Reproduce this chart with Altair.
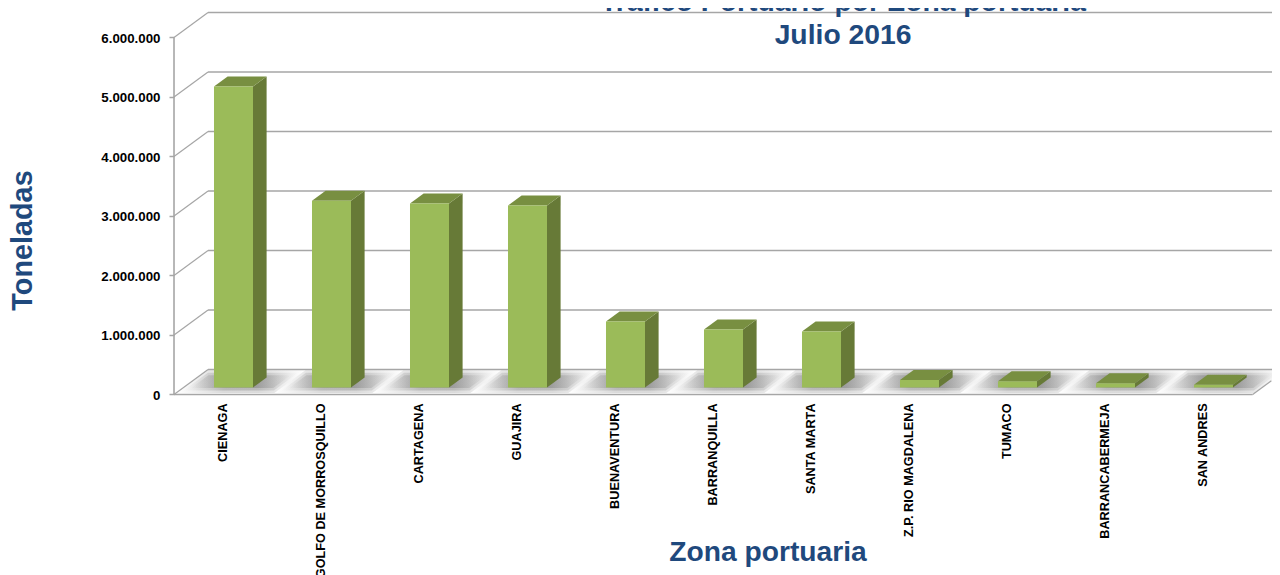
import altair as alt
import pandas as pd

categories = ["CIENAGA", "GOLFO DE MORROSQUILLO", "CARTAGENA", "GUAJIRA", "BUENAVENTURA",
              "BARRANQUILLA", "SANTA MARTA", "Z.P. RIO MAGDALENA", "TUMACO", "BARRANCABERMEJA", "SAN ANDRES"]
tonnes = [5060000, 3140000, 3090000, 3060000, 1110000, 975000, 940000, 125000, 105000, 70000, 45000]
ticks = [0, 1000000, 2000000, 3000000, 4000000, 5000000, 6000000]
title_lines = ["Tráfico Portuario por Zona portuaria", "Julio 2016"]

# 3D box model, in the units of the two scales
DX, DY = 0.347, 420000   # depth of the floor
HALF = 0.199             # half of a bar's width
D0, D1 = 0.28, 0.68      # depth of bar front / back
LAST = 10.4              # floor's right end
W, H = 1264, 567
xs = alt.Scale(domain=[-2.301, 10.597], range=[0, W], nice=False, zero=False)
ys = alt.Scale(domain=[-3034000, 6495000], range=[H, 0], nice=False, zero=False)
FLOOR_L = -0.607
GRID = "#a6a6a6"
BLUE = "#1f497d"
FONT = "Liberation Sans"

X = lambda f="x": alt.X(f"{f}:Q", scale=xs, axis=None)
Y = lambda f="y": alt.Y(f"{f}:Q", scale=ys, axis=None)

# walls
back = pd.DataFrame({"x": [FLOOR_L + DX] * 7, "x2": [10.597] * 7, "y": [t + DY for t in ticks]})
back_rules = alt.Chart(back).mark_rule(color=GRID, strokeWidth=1.6).encode(X(), x2="x2:Q", y=Y())
diag = pd.DataFrame([{"k": t, "x": FLOOR_L + d * DX, "y": t + d * DY} for t in ticks for d in (0, 1)])
diag_lines = alt.Chart(diag).mark_line(color=GRID, strokeWidth=1.2).encode(X(), Y(), detail="k:N")
right = pd.DataFrame([{"x": LAST + d * DX * 0.55, "y": d * DY * 0.55} for d in (0, 1)])
right_line = alt.Chart(right).mark_line(color=GRID, strokeWidth=1.2).encode(X(), Y())
front_floor = alt.Chart(pd.DataFrame({"x": [FLOOR_L], "x2": [LAST], "y": [0]})).mark_rule(
    color=GRID, strokeWidth=1.6).encode(X(), x2="x2:Q", y=Y())
left_wall = alt.Chart(pd.DataFrame({"x": [FLOOR_L], "y": [0], "y2": [6000000]})).mark_rule(
    color=GRID, strokeWidth=1.6).encode(X(), y=Y(), y2="y2:Q")

# soft shadows on the floor
def shadow_soft(spread, d_lo, d_hi, op):
    rows = []
    for i in range(len(categories)):
        for d in (d_lo, d_hi):
            cx = i + 0.07 + (d - 0.5) * DX
            rows.append({"k": i, "y": d * DY, "x": cx - spread, "x2": cx + spread})
    grad = alt.Gradient(gradient="linear", x1=0, x2=1, y1=0, y2=0, stops=[
        alt.GradientStop(color="rgba(110,110,110,0)", offset=0),
        alt.GradientStop(color="rgba(110,110,110,1)", offset=0.36),
        alt.GradientStop(color="rgba(110,110,110,1)", offset=0.64),
        alt.GradientStop(color="rgba(110,110,110,0)", offset=1)])
    return alt.Chart(pd.DataFrame(rows)).mark_area(orient="horizontal", color=grad, opacity=op).encode(
        alt.X("x:Q", scale=xs, axis=None), x2="x2:Q", y=Y(), detail="k:N")

shadows = [shadow_soft(0.50, 0.06, 0.97, 0.25), shadow_soft(0.46, 0.16, 0.87, 0.3), shadow_soft(0.42, 0.26, 0.77, 0.4)]

# the boxes
base = D0 * DY
rows_side, rows_top, rows_front, rows_lab = [], [], [], []
for i, (c, t) in enumerate(zip(categories, tonnes)):
    for d in (D0, D1):
        rows_side.append({"c": c, "x": i + HALF + (d - D0) * DX, "y": d * DY, "y2": t + d * DY})
        rows_top.append({"c": c, "y": t + d * DY, "x": i - HALF + (d - D0) * DX, "x2": i + HALF + (d - D0) * DX})
    rows_front.append({"c": c, "x": i - HALF, "x2": i + HALF, "y": base, "y2": base + t})
    rows_lab.append({"c": c, "x": i - 0.105, "y": -150000})

side = alt.Chart(pd.DataFrame(rows_side)).mark_area(color="#677a37").encode(X(), Y(), y2="y2:Q", detail="c:N")
top = alt.Chart(pd.DataFrame(rows_top)).mark_area(orient="horizontal", color="#788f41").encode(
    X(), x2="x2:Q", y=Y(), detail="c:N")
front = alt.Chart(pd.DataFrame(rows_front)).mark_rect(color="#9bbb59").encode(X(), x2="x2:Q", y=Y(), y2="y2:Q")
labels = alt.Chart(pd.DataFrame(rows_lab)).mark_text(
    angle=270, align="right", baseline="middle", font=FONT, fontWeight="bold", fontSize=12.7, color="#000000"
).encode(X(), Y(), text="c:N")

# chart title as two text rows at the top of the picture
title_df = pd.DataFrame({"t": title_lines, "x": [6.22, 6.22], "y": [6450000, 5890000]})
title_marks = alt.Chart(title_df).mark_text(
    align="center", baseline="alphabetic", font=FONT, fontWeight="bold", fontSize=28.3, color=BLUE
).encode(X(), Y(), text="t:N")

# axes carried by one invisible layer
axis_df = pd.DataFrame({"x": [0], "y": [0]})
axes = alt.Chart(axis_df).mark_point(opacity=0).encode(
    alt.X("x:Q", scale=xs, axis=alt.Axis(
        title="Zona portuaria", labels=False, ticks=False, domain=False, grid=False,
        titleFont=FONT, titleFontWeight="bold", titleFontSize=28.2, titleColor=BLUE,
        titleAnchor="start", titleAlign="center", titleBaseline="alphabetic", titleX=759.5, titleY=-15)),
    alt.Y("y:Q", scale=ys, axis=alt.Axis(
        title="Toneladas", values=ticks, offset=-166, domain=False, grid=False,
        tickColor=GRID, tickSize=5, tickWidth=1.5, labelPadding=9, labelOffset=1,
        labelFont=FONT, labelFontWeight="bold", labelFontSize=13.3, labelColor="#000000",
        labelExpr="replace(format(datum.value, ','), /,/g, '.')",
        titleFont=FONT, titleFontWeight="bold", titleFontSize=28.8, titleColor=BLUE,
        titleAngle=270, titleAlign="center", titleBaseline="alphabetic", titleX=-143, titleY=232)),
)

chart = alt.layer(
    back_rules, diag_lines, right_line, front_floor, left_wall, *shadows, side, top, front, labels, title_marks, axes
).resolve_axis(x="independent", y="independent").resolve_scale(x="independent", y="independent").properties(
    width=W, height=H, padding=0,
    autosize=alt.AutoSizeParams(type="none"),
).configure_view(stroke=None)

chart.save("out.html", embed_options={"renderer": "svg", "actions": False})
